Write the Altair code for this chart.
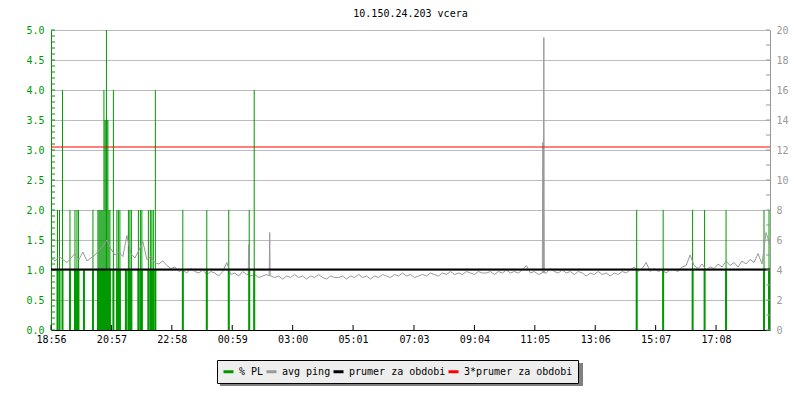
import altair as alt
import pandas as pd
import numpy as np

MONO = "DejaVu Sans Mono"
GREEN = "#009900"
GRAY = "#999999"

title_text = "10.150.24.203 vcera"
x_tick_labels = ["18:56", "20:57", "22:58", "00:59", "03:00", "05:01",
                 "07:03", "09:04", "11:05", "13:06", "15:07", "17:08"]
series_names = ["% PL", "avg ping", "prumer za obdobi", "3*prumer za obdobi"]
series_colors = [GREEN, GRAY, "#000000", "#ff0000"]

# avg ping (ms, right axis), one sample every 8 minutes from 18:56
ping_start = "18:56"
ping_step_minutes = 8
ping_ms = [
    4.8, 4.6, 4.9, 4.7, 4.5, 4.8, 5.1, 4.7, 5.2, 4.6,
    4.8, 5.0, 5.3, 5.6, 6.0, 5.4, 5.0, 5.2, 4.9, 6.3,
    5.1, 4.8, 5.3, 5.9, 4.7, 4.9, 4.5, 4.4, 4.6, 4.3,
    4.1, 4.2, 3.9, 4.0, 3.8, 4.1, 3.9, 3.8, 4.0, 3.7,
    3.9, 3.8, 3.6, 3.9, 4.5, 3.7, 3.8, 3.6, 3.9, 3.7,
    3.6, 3.7, 3.5, 3.6, 3.7, 3.6, 3.5, 3.6, 3.4, 3.6,
    3.5, 3.7, 3.5, 3.6, 3.4, 3.6, 3.5, 3.7, 3.5, 3.4,
    3.6, 3.5, 3.5, 3.6, 3.4, 3.6, 3.5, 3.7, 3.5, 3.6,
    3.4, 3.6, 3.5, 3.7, 3.6, 3.5, 3.7, 3.6, 3.8, 3.6,
    3.7, 3.5, 3.6, 3.7, 3.6, 3.8, 3.7, 3.6, 3.8, 3.7,
    3.9, 3.7, 3.8, 3.7, 3.9, 3.8, 3.7, 3.9, 3.8, 3.8,
    3.9, 3.7, 3.9, 3.8, 4.0, 3.8, 3.9, 3.8, 4.0, 4.3,
    3.8, 3.9, 3.7, 3.8, 3.8, 4.1, 3.9, 3.8, 4.0, 3.8,
    3.9, 3.7, 3.9, 3.8, 3.6, 3.8, 3.7, 3.9, 3.7, 3.8,
    3.6, 3.8, 3.7, 3.9, 3.8, 4.0, 4.2, 3.9, 4.1, 4.5,
    3.9, 4.1, 3.9, 4.0, 3.8, 4.0, 4.0, 3.9, 4.2, 4.3,
    5.0, 4.3, 4.1, 4.4, 4.0, 4.2, 4.1, 4.4, 4.2, 4.6,
    4.3, 4.5, 4.2, 4.6, 4.4, 4.7, 4.5, 5.1, 4.4, 6.5,
    5.7,
]
# narrow ping spikes between the regular samples
spike_times = ["01:31", "01:32", "01:33", "02:13", "02:14", "02:15",
               "11:21", "11:22", "11:23", "11:24"]
spike_ms = [3.7, 5.7, 3.7, 3.6, 6.5, 3.6, 12.5, 3.8, 19.5, 3.8]

# packet loss events (%, left axis)
pl_times = ["19:09", "19:13", "19:19", "19:34", "19:44", "19:48", "19:51", "20:02",
            "20:20", "20:30", "20:32", "20:34", "20:36", "20:38", "20:40", "20:42",
            "20:44", "20:46", "20:47", "20:48", "20:50", "20:52", "20:54", "21:01",
            "21:08", "21:11", "21:14", "21:26", "21:31", "21:34", "21:37", "21:51",
            "21:55", "21:58", "22:11", "22:15", "22:18", "22:21", "22:25", "23:20",
            "00:08", "00:52", "01:33", "01:43", "14:29", "15:22", "16:21", "16:45",
            "17:28", "18:44", "18:54"]
pl_values = [2, 2, 4, 2, 2, 2, 2, 1,
             2, 2, 2, 2, 2, 2, 2, 4,
             3.5, 3.5, 5, 3.5, 3.5, 2, 2, 4,
             2, 2, 2, 1, 2, 2, 2, 2,
             2, 2, 2, 2, 2, 2, 4, 2,
             2, 2, 2, 4, 2, 2, 2, 2,
             2, 2, 2]

mean_ping_ms = 4.04
mean_ping_3x_ms = 12.2

left_axis_values = [0, 0.5, 1.0, 1.5, 2.0, 2.5, 3.0, 3.5, 4.0, 4.5, 5.0]
right_axis_values = [0, 2, 4, 6, 8, 10, 12, 14, 16, 18, 20]
left_minor_ticks = [round(v * 0.1, 1) for v in range(51)]
right_minor_ticks = list(range(21))

W, H = 719, 300


def ts(hhmm):
    h, m = (int(p) for p in hhmm.split(":"))
    day = 1 if h * 60 + m >= 18 * 60 + 56 else 2
    return pd.Timestamp(year=2024, month=1, day=day, hour=h, minute=m)


def dt(t):
    return alt.DateTime(year=2024, month=1, date=t.day, hours=t.hour, minutes=t.minute)


start = ts(ping_start)
ping_df = pd.DataFrame({
    "t": pd.date_range(start, periods=len(ping_ms), freq=f"{ping_step_minutes}min"),
    "ms": ping_ms,
})
spike_df = pd.DataFrame({"t": [ts(s) for s in spike_times], "ms": spike_ms})
ping_df = pd.concat([ping_df, spike_df]).sort_values("t").reset_index(drop=True)
ping_df["series"] = "avg ping"

pl_df = pd.DataFrame({"t": [ts(s) for s in pl_times], "pl": pl_values})
pl_df["zero"] = 0.0
pl_df["low"] = np.minimum(pl_df["pl"], 1.0)
pl_df["series"] = "% PL"

mean_df = pd.DataFrame({"series": ["prumer za obdobi"], "v": [mean_ping_ms]})
mean3_df = pd.DataFrame({"series": ["3*prumer za obdobi"], "v": [mean_ping_3x_ms]})
xt_df = pd.DataFrame({"t": [ts(l) for l in x_tick_labels]})
lt_df = pd.DataFrame({"v": left_minor_ticks})
rt_df = pd.DataFrame({"v": right_minor_ticks})

x_scale = alt.Scale(domain=[dt(start), alt.DateTime(year=2024, month=1, date=2, hours=18, minutes=56)],
                    nice=False)


def left_scale():
    return alt.Scale(domain=[0, 5], nice=False, zero=True)


def right_scale():
    return alt.Scale(domain=[0, 20], nice=False, zero=True)


color_scale = alt.Scale(domain=series_names, range=series_colors)

x_axis = alt.Axis(values=[dt(ts(l)) for l in x_tick_labels], format="%H:%M", title=None,
                  ticks=False, grid=False, domainColor="black", domainWidth=1,
                  labelColor="black", labelFont=MONO, labelFontSize=10, labelPadding=4,
                  labelFlush=False, labelOverlap=False, orient="bottom")
left_axis = alt.Axis(values=left_axis_values, format=".1f", title=None, orient="left",
                     ticks=False, grid=True, gridColor="#bbbbbb", gridWidth=1,
                     domainColor=GREEN, labelColor=GREEN, labelFont=MONO, labelFontSize=10,
                     labelPadding=7)
right_axis = alt.Axis(values=right_axis_values, format="d", title=None, orient="right",
                      ticks=False, grid=False, domainColor=GRAY, labelColor=GRAY,
                      labelFont=MONO, labelFontSize=10, labelPadding=6)
legend = alt.Legend(orient="none", legendX=166, legendY=330, direction="horizontal",
                    title=None, fillColor="#eeeeee", strokeColor="black", padding=5,
                    columnPadding=-4, labelOffset=4, symbolType="stroke",
                    symbolStrokeWidth=3, symbolSize=100, labelFont=MONO,
                    labelFontSize=10, labelColor="black", zindex=1, labelLimit=300)

pl_thin = alt.Chart(pl_df).mark_rule(strokeWidth=1).encode(
    x=alt.X("t:T", scale=x_scale, axis=x_axis),
    y=alt.Y("pl:Q", scale=left_scale(), axis=left_axis),
    y2=alt.Y2("zero:Q"),
    color=alt.Color("series:N", scale=color_scale, legend=legend),
)
ping_line = alt.Chart(ping_df).mark_line(strokeWidth=1).encode(
    x=alt.X("t:T", scale=x_scale, axis=None),
    y=alt.Y("ms:Q", scale=right_scale(), axis=right_axis),
    color=alt.Color("series:N", scale=color_scale, legend=None),
)
pl_thick = alt.Chart(pl_df).mark_rule(strokeWidth=2, color=GREEN).encode(
    x=alt.X("t:T", scale=x_scale, axis=None),
    y=alt.Y("low:Q", scale=left_scale(), axis=None),
    y2=alt.Y2("zero:Q"),
)
left_ticks = alt.Chart(lt_df).mark_rule(color=GREEN, strokeWidth=1).encode(
    y=alt.Y("v:Q", scale=left_scale(), axis=None),
    x=alt.value(0), x2=alt.value(4),
)
x_ticks = alt.Chart(xt_df).mark_rule(color="black", strokeWidth=1).encode(
    x=alt.X("t:T", scale=x_scale, axis=None),
    y=alt.value(H - 5), y2=alt.value(H),
)
mean_rule = alt.Chart(mean_df).mark_rule(strokeWidth=2).encode(
    y=alt.Y("v:Q", scale=right_scale(), axis=None),
    color=alt.Color("series:N", scale=color_scale, legend=None),
)
mean3_rule = alt.Chart(mean3_df).mark_rule(strokeWidth=1).encode(
    y=alt.Y("v:Q", scale=right_scale(), axis=None),
    color=alt.Color("series:N", scale=color_scale, legend=None),
)
right_ticks = alt.Chart(rt_df).mark_rule(color=GRAY, strokeWidth=1).encode(
    y=alt.Y("v:Q", scale=right_scale(), axis=None),
    x=alt.value(W - 4), x2=alt.value(W),
)
shadow = alt.Chart(alt.Data(values=[{"s": 1}])).mark_rect(color="#808080").encode(
    x=alt.value(169), x2=alt.value(532), y=alt.value(333), y2=alt.value(356),
)

chart = alt.layer(
    pl_thin, ping_line, pl_thick, left_ticks, x_ticks, mean_rule, mean3_rule,
    right_ticks, shadow,
).resolve_scale(y="independent").resolve_axis(x="independent").properties(
    width=W, height=H,
    title=alt.TitleParams(title_text, font=MONO, fontSize=10, fontWeight="normal",
                          color="black", anchor="middle", offset=6),
    padding={"left": 43, "top": 22, "right": 22, "bottom": 62},
    autosize=alt.AutoSizeParams(type="none"),
).configure_view(stroke=None).configure(background="white")

chart.save("out.html", embed_options={"renderer": "svg", "actions": False})
